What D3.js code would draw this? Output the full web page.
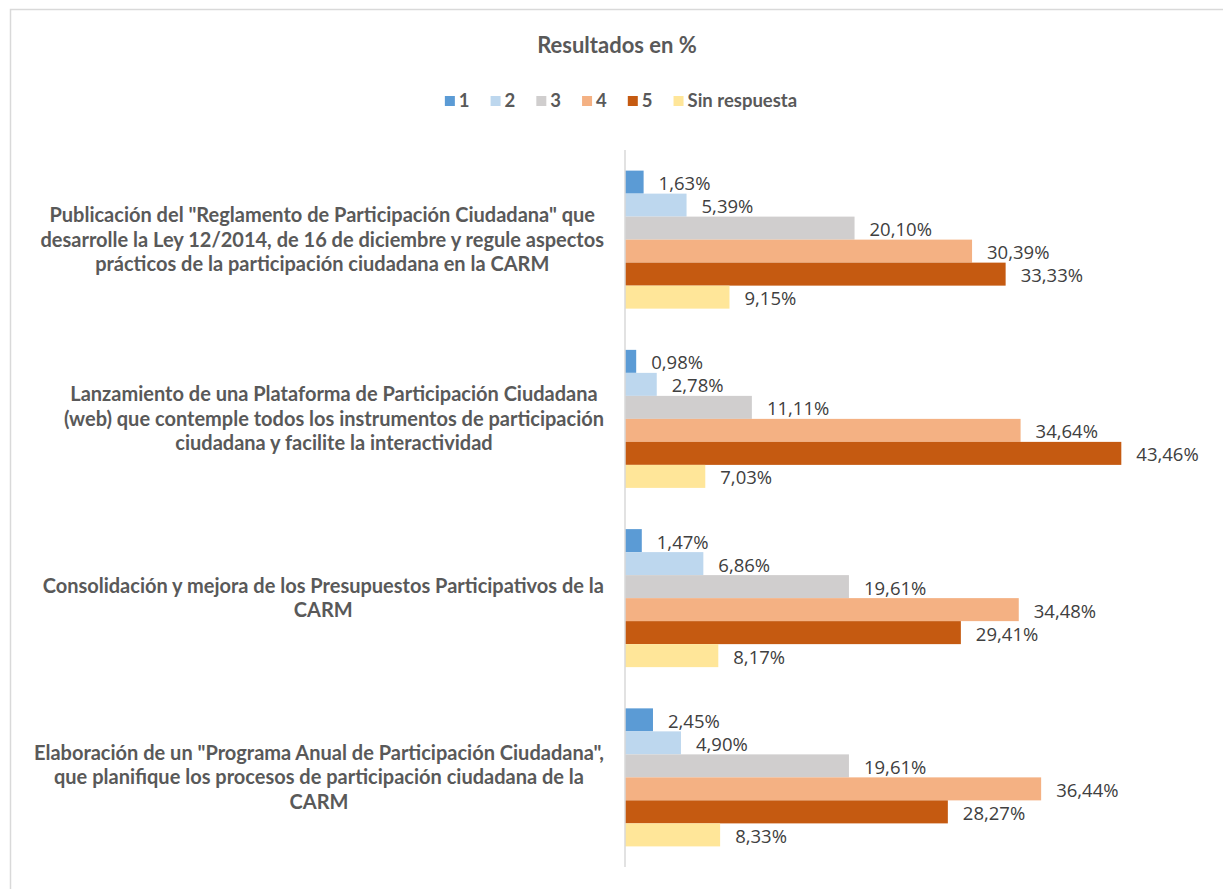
<!DOCTYPE html>
<html>
<head>
<meta charset="utf-8">
<script src="https://cdn.jsdelivr.net/npm/d3@7"></script>
<style>
	body { margin: 0; background: #fff; }
	svg { display: block; }
</style>
</head>
<body>
<div id="chart_goes_here"></div>
<script>
//Data
var categories = [
	['Publicación del "Reglamento de Participación Ciudadana" que', 'desarrolle la Ley 12/2014, de 16 de diciembre y regule aspectos', 'prácticos de la participación ciudadana en la CARM'],
	['Lanzamiento de una Plataforma de Participación Ciudadana', '(web) que contemple todos los instrumentos de participación', 'ciudadana y facilite la interactividad'],
	['Consolidación y mejora de los Presupuestos Participativos de la', 'CARM'],
	['Elaboración de un "Programa Anual de Participación Ciudadana",', 'que planifique los procesos de participación ciudadana de la', 'CARM']
];
var series_names = ['1', '2', '3', '4', '5', 'Sin respuesta'];
var series_colours = ['#5B9BD5', '#BDD7EE', '#D0CECE', '#F4B183', '#C55A11', '#FFE699'];
var values_1 = [1.63, 0.98, 1.47, 2.45];
var values_2 = [5.39, 2.78, 6.86, 4.90];
var values_3 = [20.10, 11.11, 19.61, 19.61];
var values_4 = [30.39, 34.64, 34.48, 36.44];
var values_5 = [33.33, 43.46, 29.41, 28.27];
var values_sin = [9.15, 7.03, 8.17, 8.33];
var all_values = [values_1, values_2, values_3, values_4, values_5, values_sin];

var settings = {
	width: 1223,
	height: 889,
	plot_left: 625,
	plot_right: 1196,
	plot_top: 150,
	plot_bottom: 867,
	label_font: '"Open Sans", sans-serif',
	bold_font: 'Lato, "Open Sans", sans-serif',
	grey_text: '#595959',
	value_text: '#404040'
}

var svg = d3.select('#chart_goes_here')
	.append('svg')
	.attr('width', settings.width)
	.attr('height', settings.height);

//chart area border (only top and left show in the picture)
svg.append('path')
	.attr('d', 'M10.5,' + settings.height + 'V9.5H' + settings.width)
	.attr('fill', 'none')
	.attr('stroke', '#D9D9D9')
	.attr('stroke-width', 1.5);

//title
svg.append('text')
	.attr('x', 617)
	.attr('y', 53)
	.attr('text-anchor', 'middle')
	.style('font-family', settings.bold_font)
	.style('font-weight', 'bold')
	.style('font-size', '22px')
	.style('fill', settings.grey_text)
	.text('Resultados en %');

//scales
var y_group = d3.scaleBand()
	.domain(d3.range(categories.length))
	.range([settings.plot_top, settings.plot_bottom])
	.paddingInner(0.23)
	.paddingOuter(0.115);

var y_bar = d3.scaleBand()
	.domain(d3.range(series_names.length))
	.range([0, y_group.bandwidth()]);

var x = d3.scaleLinear()
	.domain([0, 50])
	.range([settings.plot_left, settings.plot_right]);

//bars
var groups = svg.selectAll('.group')
	.data(categories)
	.enter()
	.append('g')
	.attr('class', 'group')
	.attr('transform', function(d, i){ return 'translate(0,' + y_group(i) + ')'; });

groups.each(function(d, i){
	var g = d3.select(this);
	for (var s = 0; s < series_names.length; s++){
		var v = all_values[s][i];
		g.append('rect')
			.attr('x', x(0))
			.attr('y', y_bar(s))
			.attr('width', x(v) - x(0))
			.attr('height', y_bar.bandwidth())
			.style('fill', series_colours[s]);
		g.append('text')
			.attr('x', x(v) + 15)
			.attr('y', y_bar(s) + y_bar.bandwidth() / 2 + 1.5)
			.attr('dy', '0.35em')
			.style('font-family', settings.label_font)
			.style('font-size', '18.5px')
			.style('fill', settings.value_text)
			.text(v.toFixed(2).replace('.', ',') + '%');
	}
});

//vertical axis line
svg.append('line')
	.attr('x1', x(0))
	.attr('x2', x(0))
	.attr('y1', settings.plot_top)
	.attr('y2', settings.plot_bottom)
	.attr('stroke', '#D9D9D9')
	.attr('stroke-width', 1.5);

//category labels, lines centred in a box that ends at x = 604
var line_height = 24.5;
categories.forEach(function(lines, i){
	var t = svg.append('text')
		.style('font-family', settings.bold_font)
		.style('font-weight', 'bold')
		.style('font-size', '20px')
		.style('fill', settings.grey_text)
		.attr('text-anchor', 'middle');
	var centre_y = y_group(i) + y_group.bandwidth() / 2;
	var spans = lines.map(function(line, k){
		return t.append('tspan')
			.attr('y', centre_y + (k - (lines.length - 1) / 2) * line_height)
			.attr('dy', '0.35em')
			.text(line);
	});
	var max_w = d3.max(spans, function(s){ return s.node().getComputedTextLength(); });
	spans.forEach(function(s){ s.attr('x', 604 - max_w / 2); });
});

//legend
var legend = svg.append('g');
var pos = 0;
series_names.forEach(function(name, s){
	legend.append('rect')
		.attr('x', pos)
		.attr('y', 96)
		.attr('width', 10)
		.attr('height', 10)
		.style('fill', series_colours[s]);
	var t = legend.append('text')
		.attr('x', pos + 14)
		.attr('y', 101)
		.attr('dy', '0.35em')
		.style('font-family', settings.bold_font)
		.style('font-weight', 'bold')
		.style('font-size', '18.5px')
		.style('fill', settings.grey_text)
		.text(name);
	pos += 14 + t.node().getComputedTextLength() + 21;
});
pos -= 21;
legend.attr('transform', 'translate(' + (621 - pos / 2) + ',0)');
</script>
</body>
</html>
